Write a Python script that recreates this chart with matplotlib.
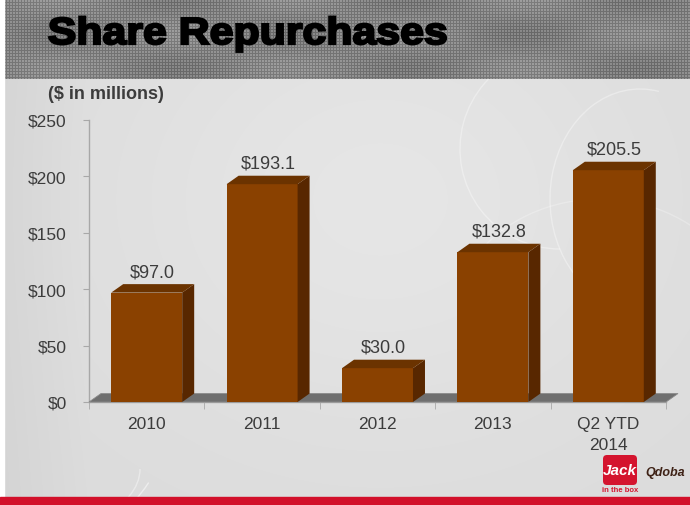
import numpy as np
import matplotlib
matplotlib.use("Agg")
import matplotlib.pyplot as plt
from matplotlib.patches import Polygon, Rectangle, FancyBboxPatch, Arc, PathPatch
from matplotlib.textpath import TextPath
from matplotlib.font_manager import FontProperties
from matplotlib.transforms import Affine2D

# ---- data ----
categories = ["2010", "2011", "2012", "2013", "Q2 YTD\n2014"]
values = [97.0, 193.1, 30.0, 132.8, 205.5]
value_labels = ["$97.0", "$193.1", "$30.0", "$132.8", "$205.5"]
yticks = [0, 50, 100, 150, 200, 250]
ytick_labels = ["$0", "$50", "$100", "$150", "$200", "$250"]
title = "Share Repurchases"
subtitle = "($ in millions)"

W, H = 690, 506
plt.rcParams['font.family'] = ['Liberation Sans', 'DejaVu Sans']
fig = plt.figure(figsize=(W / 100, H / 100), dpi=100)

# ---- background ----
bg = fig.add_axes([0, 0, 1, 1])
bg.set_xlim(0, W)
bg.set_ylim(H, 0)
bg.axis('off')

yy, xx = np.mgrid[0:H, 0:W]
body = 0.86 + 0.04 * np.exp(-(((xx - 380) / 300.0) ** 2 + ((yy - 200) / 250.0) ** 2)) - 0.03 * (xx < 90) * (1 - xx / 90.0)
body = np.clip(body, 0, 1)
bg.imshow(np.dstack([body] * 3), extent=(0, W, H, 0), aspect='auto', zorder=0, interpolation='bilinear')

# faint swirls
for (cx, cy, w, h, t1, t2, a) in [(60, 330, 260, 420, 60, 200, 0.5), (80, 360, 220, 380, 70, 190, 0.4),
                                  (560, 150, 200, 200, 90, 300, 0.35), (640, 200, 180, 220, 100, 280, 0.35),
                                  (330, 120, 400, 120, 200, 340, 0.25), (40, 470, 200, 120, 0, 120, 0.4),
                                  (600, 330, 300, 260, 200, 330, 0.25)]:
    bg.add_patch(Arc((cx, cy), w, h, theta1=t1, theta2=t2, color='white', lw=1.0, alpha=a, zorder=1))

# header textured band
hh = 80
hdr = np.full((hh, W), 0.58)
hdr[:, ::3] = 0.45
hdr[::3, :] = 0.45
hdr += 0.04 * np.sin(xx[:hh] / 37.0) * np.cos(yy[:hh] / 11.0)
bg.imshow(np.dstack([np.clip(hdr, 0, 1)] * 3), extent=(0, W, hh, 0), aspect='auto', zorder=2, interpolation='nearest')
bg.add_patch(Rectangle((0, 0), 4, H, color='white', zorder=3))

# bottom red band
bg.add_patch(Rectangle((0, 498), W, 8, color='#d2102a', zorder=3))

# logos
bg.add_patch(FancyBboxPatch((603, 456), 34, 30, boxstyle="round,pad=0,rounding_size=4",
                            fc='#d4142e', ec='none', zorder=4))
bg.text(620, 471, "Jack", color='white', fontsize=11, fontstyle='italic', fontweight='bold',
        ha='center', va='center', zorder=5)
bg.text(620, 491, "in the box", color='#d4142e', fontsize=5.5, fontweight='bold', ha='center', va='center', zorder=5)
bg.text(665, 473, "Qdoba", color='#3e2216', fontsize=9, fontstyle='italic', fontweight='bold',
        ha='center', va='center', zorder=5)

# title as wide heavy path
fp = FontProperties(family='Liberation Sans', weight='bold')
tp = TextPath((0, 0), title, size=37.7, prop=fp)
ext = tp.get_extents()
sx = (445 - 48) / ext.width
tr = Affine2D().translate(-ext.x0, 0).scale(sx, -1.0).translate(49, 45)
bg.add_patch(PathPatch(tr.transform_path(tp), fc='black', ec='black', lw=1.6, zorder=5))

fig.text(48 / W, 1 - 99 / H, subtitle, fontsize=13, fontweight='bold', color='#3c3c3c',
         ha='left', va='baseline')

# ---- chart ----
ax = fig.add_axes([89 / W, 1 - 403 / H, (666 - 89) / W, (403 - 121) / H])
ax.patch.set_alpha(0)
ax.set_xlim(-0.5, len(categories) - 0.5)
ax.set_ylim(0, 250)

x = np.arange(len(categories))
bw = 0.615
dx = 12 / 115.4
dy = 7.5

front = '#8a4100'
side = '#582700'
top = '#6b3300'

# floor
n = len(categories)
ax.add_patch(Polygon([(-0.5, 0), (n - 0.5, 0), (n - 0.5 + dx, dy), (-0.5 + dx, dy)],
                     closed=True, fc='#6f6f6f', ec='#8a8a8a', lw=0.6, zorder=2, clip_on=False))

ax.bar(x, values, width=bw, color=front, zorder=4)
for xi, v, lab in zip(x, values, value_labels):
    r = xi + bw / 2
    l = xi - bw / 2
    ax.add_patch(Polygon([(r, 0), (r + dx, dy), (r + dx, v + dy), (r, v)], closed=True,
                         fc=side, ec='none', zorder=4, clip_on=False))
    ax.add_patch(Polygon([(l, v), (l + dx, v + dy), (r + dx, v + dy), (r, v)], closed=True,
                         fc=top, ec='none', zorder=4, clip_on=False))
    ax.annotate(lab, (xi + dx / 2, v + dy), xytext=(0, 9.0), textcoords='offset points',
                ha='center', va='center', fontsize=13, color='#3c3c3c', zorder=6)

for s in ['top', 'right']:
    ax.spines[s].set_visible(False)
for s in ['left', 'bottom']:
    ax.spines[s].set_color('#a8a8a8')
    ax.spines[s].set_linewidth(1.0)
    ax.spines[s].set_zorder(1)

ax.set_yticks(yticks)
ax.set_yticklabels(ytick_labels)
ax.tick_params(axis='y', length=4, color='#a8a8a8', pad=12, labelsize=12.5, labelcolor='#3c3c3c')

ax.set_xticks(x)
ax.set_xticklabels(categories, linespacing=1.5)
ax.set_xticks(np.arange(-0.5, n, 1.0), minor=True)
ax.tick_params(axis='x', which='major', length=0, pad=10, labelsize=12.5, labelcolor='#3c3c3c')
ax.tick_params(axis='x', which='minor', length=5, color='#a8a8a8')

fig.savefig("out.png", dpi=100)
